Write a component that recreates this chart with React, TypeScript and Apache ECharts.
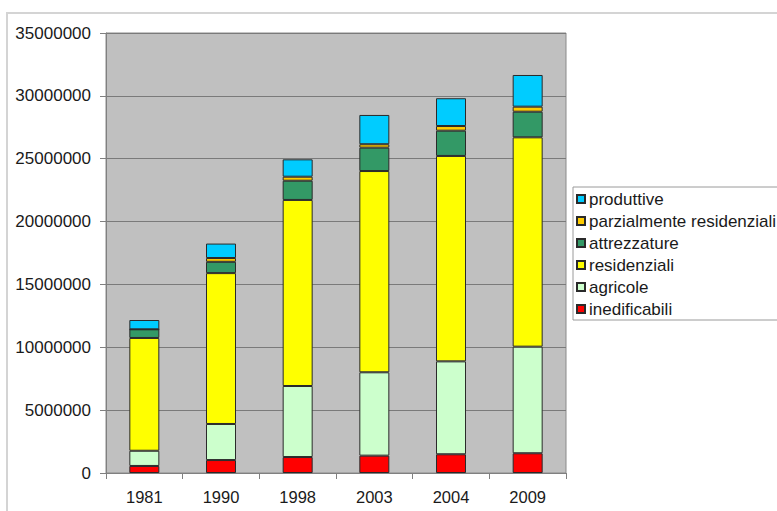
import React, { useEffect, useRef } from "react";
import * as echarts from "echarts";

// Years shown on the category axis
const years = ["1981", "1990", "1998", "2003", "2004", "2009"];

// Surface per zoning class (m²), stacked from the bottom up
const inedificabili = [560000, 1030000, 1270000, 1380000, 1490000, 1570000];
const agricole = [1210000, 2870000, 5650000, 6630000, 7390000, 8480000];
const residenziali = [8970000, 12000000, 14800000, 16010000, 16340000, 16650000];
const attrezzature = [690000, 900000, 1530000, 1860000, 2010000, 2040000];
const parzialmenteResidenziali = [0, 300000, 320000, 270000, 370000, 400000];
const produttive = [740000, 1150000, 1380000, 2330000, 2210000, 2520000];

const yMin = 0;
const yMax = 35000000;
const yStep = 5000000;

const FONT = "'Liberation Sans', Arial, sans-serif";

export default function App() {
  const ref = useRef<HTMLDivElement>(null);

  useEffect(() => {
    if (!ref.current) return;
    const chart = echarts.init(ref.current, undefined, { renderer: "svg" });

    const barBase = {
      type: "bar" as const,
      stack: "tot",
      barWidth: 30,
    };
    const border = { borderColor: "#2a2a2a", borderWidth: 1 };

    chart.setOption({
      animation: false,
      backgroundColor: "#ffffff",
      textStyle: { fontFamily: FONT },
      graphic: [
        {
          type: "rect",
          shape: { x: 7, y: 13, width: 820, height: 560 },
          style: { fill: "none", stroke: "#d4d4d4", lineWidth: 2 },
          silent: true,
          z: -1,
        },
      ],
      grid: {
        left: 106,
        top: 33,
        width: 460,
        height: 440,
        show: true,
        backgroundColor: "#c0c0c0",
        borderColor: "#8a8a8a",
        borderWidth: 1,
      },
      legend: {
        orient: "vertical",
        left: 573,
        top: 187,
        itemWidth: 8,
        itemHeight: 8,
        itemGap: 0,
        padding: [1, 10, 0, 3],
        backgroundColor: "#ffffff",
        borderColor: "#9a9a9a",
        borderWidth: 1,
        icon: "rect",
        textStyle: {
          fontFamily: FONT,
          fontSize: 17,
          color: "#1a1a1a",
          lineHeight: 22,
          padding: [0, 0, 0, -1],
        },
        data: [
          "produttive",
          "parzialmente residenziali",
          "attrezzature",
          "residenziali",
          "agricole",
          "inedificabili",
        ],
      },
      xAxis: {
        type: "category",
        data: years,
        boundaryGap: true,
        axisLine: { show: true, lineStyle: { color: "#808080", width: 1 } },
        axisTick: { show: true, length: 6, lineStyle: { color: "#808080" } },
        axisLabel: {
          fontFamily: FONT,
          fontSize: 16.5,
          color: "#1a1a1a",
          margin: 15,
        },
      },
      yAxis: {
        type: "value",
        min: yMin,
        max: yMax,
        interval: yStep,
        axisLine: { show: true, lineStyle: { color: "#808080", width: 1 } },
        axisTick: { show: true, length: 6, lineStyle: { color: "#808080" } },
        splitLine: { show: true, lineStyle: { color: "#7a7a7a", width: 1 } },
        axisLabel: {
          fontFamily: FONT,
          fontSize: 17,
          color: "#1a1a1a",
          margin: 15,
          formatter: (v: number) => String(v),
        },
      },
      series: [
        {
          ...barBase,
          name: "inedificabili",
          data: inedificabili,
          itemStyle: { color: "#ff0000", ...border },
        },
        {
          ...barBase,
          name: "agricole",
          data: agricole,
          itemStyle: { color: "#ccffcc", ...border },
        },
        {
          ...barBase,
          name: "residenziali",
          data: residenziali,
          itemStyle: { color: "#ffff00", ...border },
        },
        {
          ...barBase,
          name: "attrezzature",
          data: attrezzature,
          itemStyle: { color: "#339966", ...border },
        },
        {
          ...barBase,
          name: "parzialmente residenziali",
          data: parzialmenteResidenziali,
          itemStyle: { color: "#ffcc00", ...border },
        },
        {
          ...barBase,
          name: "produttive",
          data: produttive,
          itemStyle: { color: "#00ccff", ...border },
        },
      ],
    });

    return () => chart.dispose();
  }, []);

  return (
    <div
      ref={ref}
      style={{ position: "fixed", left: 0, top: 0, width: 777, height: 511 }}
    />
  );
}
